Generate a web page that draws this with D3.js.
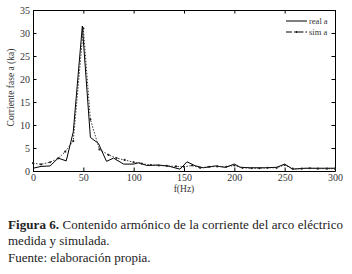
<!DOCTYPE html>
<html><head><meta charset="utf-8">
<script src="https://cdn.jsdelivr.net/npm/d3@7/dist/d3.min.js"></script>
</head><body style="margin:0">
<script>
const realX = [0,8,17,25,33,40,49,57,65,73,80,90,100,105,113,124,134,146,153,161,169,181,191,200,206,216,230,242,250,258,270,285,300];
const realY = [0.6,1.0,1.1,2.8,2.2,8.5,31.5,7.3,6.0,2.1,2.8,1.5,1.5,1.8,1.2,1.3,1.1,0.4,2.0,1.15,0.7,1.1,0.8,1.5,0.8,0.7,0.7,0.8,1.5,0.4,0.6,0.6,0.6];
const simX = [0,8,17,25,32,40,50,57,66,75,83,91,100,108,117,125,133,142,150,158,166,175,183,192,200,208,217,225,233,242,250,258,267,275,283,292,300];
const simY = [1.7,1.45,1.9,2.75,4.2,6.5,31,11.2,4.7,3.5,2.8,2.4,1.9,1.6,1.3,1.2,1.1,1.0,0.9,1.2,0.7,0.9,1.0,0.9,1.2,0.7,0.6,0.6,0.7,0.7,1.3,0.5,0.5,0.6,0.5,0.5,0.5];
const xTicks = [0,50,100,150,200,250,300];
const yTicks = [0,5,10,15,20,25,30,35];
const legendLabels = ["real a","sim a"];
const yLabel = "Corriente fase a (ka)";
const xLabel = "f(Hz)";
const captionLines = ["medida y simulada.","Fuente: elaboración propia."];

const fam = () => `"Liberation Serif", "Times New Roman", Tinos, FreeSerif`;
const W=352,H=274;
const svg=d3.select("body").append("svg").attr("width",W).attr("height",H)
  .style("display","block").style("font-family",fam);
const L=33,R=335,T=10,B=171;
const x=d3.scaleLinear().domain([0,300]).range([L,R]);
const y=d3.scaleLinear().domain([0,35]).range([B,T]);
const tk=3.5;

const gx=svg.append("g").attr("transform",`translate(0,${B})`)
  .call(d3.axisBottom(x).tickValues(xTicks).tickSizeInner(-tk).tickSizeOuter(0).tickPadding(3));
const gxt=svg.append("g").attr("transform",`translate(0,${T})`)
  .call(d3.axisTop(x).tickValues(xTicks).tickSizeInner(-tk).tickSizeOuter(0).tickFormat(""));
const gy=svg.append("g").attr("transform",`translate(${L},0)`)
  .call(d3.axisLeft(y).tickValues(yTicks).tickSizeInner(-tk).tickSizeOuter(0).tickPadding(3));
const gyr=svg.append("g").attr("transform",`translate(${R},0)`)
  .call(d3.axisRight(y).tickValues(yTicks).tickSizeInner(-tk).tickSizeOuter(0).tickFormat(""));
[gx,gxt,gy,gyr].forEach(g=>{
  g.attr("font-family",null).attr("font-size",null);
  g.selectAll("path").attr("stroke","#000").attr("stroke-width",1);
  g.selectAll("line").attr("stroke","#000").attr("stroke-width",1);
  g.selectAll("text").attr("fill","#333").style("font-family",fam).style("font-size","10px");
});
gx.selectAll("text").attr("dy","0.71em");

svg.append("text").attr("transform",`translate(14,${(T+B)/2-3}) rotate(-90)`)
  .attr("text-anchor","middle").style("font-family",fam).style("font-size","9.5px").attr("fill","#333").text(yLabel);
svg.append("text").attr("x",184).attr("y",192).attr("text-anchor","middle")
  .style("font-family",fam).style("font-size","9.5px").attr("fill","#333").text(xLabel);

const line=d3.line().x(d=>x(d[0])).y(d=>y(d[1]));
const real=realX.map((v,i)=>[v,realY[i]]);
const sim=simX.map((v,i)=>[v,simY[i]]);
svg.append("path").datum(real).attr("d",line).attr("fill","none").attr("stroke","#000").attr("stroke-width",1);
svg.append("path").datum(sim).attr("d",line).attr("fill","none").attr("stroke","#222").attr("stroke-width",0.9).attr("stroke-dasharray","1.5,1.5");
svg.append("g").selectAll("circle").data(sim).join("circle")
  .attr("cx",d=>x(d[0])).attr("cy",d=>y(d[1])).attr("r",1.1).attr("fill","#222");

// legend
const lg=svg.append("g");
lg.append("line").attr("x1",286).attr("x2",307).attr("y1",21).attr("y2",21).attr("stroke","#000").attr("stroke-width",1);
lg.append("line").attr("x1",286).attr("x2",307).attr("y1",32).attr("y2",32).attr("stroke","#000").attr("stroke-width",1).attr("stroke-dasharray","6,2,1.5,2");
lg.append("circle").attr("cx",296.5).attr("cy",32).attr("r",1.1).attr("fill","#000");
lg.selectAll("text").data(legendLabels).join("text").attr("x",309).attr("y",(d,i)=>21+i*11+2.8)
  .style("font-family",fam).style("font-size","8.5px").attr("fill","#333").text(d=>d);

// caption
const t1=svg.append("text").attr("x",8).attr("y",229).attr("textLength",335).attr("lengthAdjust","spacing")
  .attr("fill","#222").style("font-family",fam).style("font-size","13px");
t1.append("tspan").style("font-weight","bold").text("Figura 6.");
t1.append("tspan").text(" Contenido armónico de la corriente del arco eléctrico");
svg.selectAll("text.cap").data(captionLines).join("text").attr("class","cap")
  .attr("x",8).attr("y",(d,i)=>245+i*17).attr("fill","#222")
  .style("font-family",fam).style("font-size","13px").text(d=>d);
</script>
</body></html>
